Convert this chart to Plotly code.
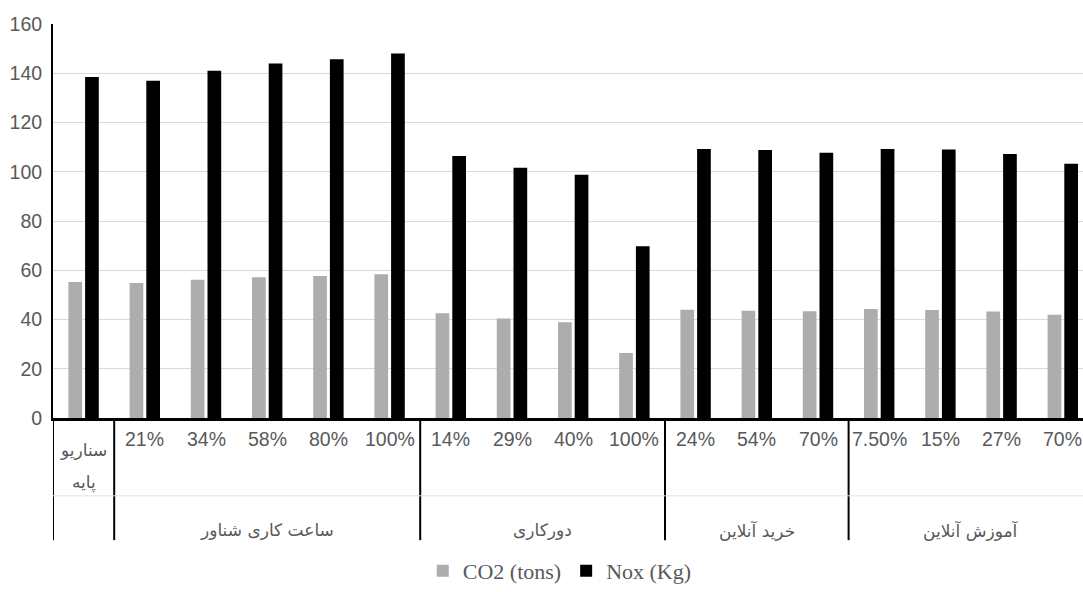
import plotly.graph_objects as go

# Scenario groups and their sub-scenario labels
group_names = ["", "ساعت کاری شناور", "دورکاری", "خرید آنلاین", "آموزش آنلاین"]
group_ticks = [
    ["سناریو\nپایه"],
    ["21%", "34%", "58%", "80%", "100%"],
    ["14%", "29%", "40%", "100%"],
    ["24%", "54%", "70%"],
    ["7.50%", "15%", "27%", "70%"],
]

# Emissions per scenario
co2_tons = [55.2, 54.8, 56.1, 57.2, 57.7, 58.4,
            42.5, 40.4, 38.9, 26.4,
            44.0, 43.6, 43.3,
            44.3, 43.9, 43.2, 41.9]
nox_kg = [138.5, 137.0, 141.0, 144.0, 145.7, 148.0,
          106.4, 101.6, 98.8, 69.7,
          109.2, 108.8, 107.7,
          109.2, 109.0, 107.2, 103.2]

y_ticks = [0, 20, 40, 60, 80, 100, 120, 140, 160]

tick_labels = [t for g in group_ticks for t in g]
xs = list(range(len(tick_labels)))

LABEL_GRAY = "#595959"
NUM_FONT = "Liberation Sans, Arial"
AR_FONT = "DejaVu Sans"
PLOT_H = 400  # plot area height in px (used to turn pixel offsets into paper units)

fig = go.Figure()
fig.add_trace(go.Bar(x=xs, y=co2_tons, name="CO2 (tons)",
                     marker=dict(color="#adadad", line=dict(width=0))))
fig.add_trace(go.Bar(x=xs, y=nox_kg, name="Nox (Kg)",
                     marker=dict(color="#000000", line=dict(width=0))))

annotations = []
shapes = []

# sub-category labels under the axis
for x, lab in zip(xs, tick_labels):
    lines = lab.split("\n")
    if len(lines) == 1:
        annotations.append(dict(x=x, xref="x", y=0, yref="paper", yshift=-21,
                                text=lab, showarrow=False, yanchor="middle",
                                font=dict(family=NUM_FONT, size=19.5, color=LABEL_GRAY)))
    else:
        for k, ln in enumerate(lines):
            annotations.append(dict(x=x, xref="x", y=0, yref="paper", yshift=-32 - 32 * k,
                                    text=ln, showarrow=False, yanchor="middle",
                                    font=dict(family=AR_FONT, size=17, color=LABEL_GRAY)))

# group labels and dividers
start = 0
bounds = [-0.5]
for name, ticks in zip(group_names, group_ticks):
    end = start + len(ticks)
    if name:
        annotations.append(dict(x=(start + end - 1) / 2, xref="x", y=0, yref="paper",
                                yshift=-112, text=name, showarrow=False, yanchor="middle",
                                font=dict(family=AR_FONT, size=17, color=LABEL_GRAY)))
    bounds.append(end - 0.5)
    start = end

for b in bounds:
    shapes.append(dict(type="line", xref="x", yref="paper", x0=b, x1=b,
                       y0=0, y1=-124 / PLOT_H, line=dict(color="black", width=2)))

# thin separator between the two label rows
shapes.append(dict(type="line", xref="paper", yref="paper", x0=0, x1=1,
                   y0=-79 / PLOT_H, y1=-79 / PLOT_H, line=dict(color="#e3e3e3", width=1)))

fig.update_layout(
    width=1083, height=592,
    margin=dict(l=53, r=0, t=24, b=168),
    paper_bgcolor="white", plot_bgcolor="white",
    barmode="group", bargap=0.454, bargroupgap=0.18,
    showlegend=True,
    legend=dict(orientation="h", x=0.492, xanchor="center", y=-156 / PLOT_H,
                yanchor="middle", font=dict(family="Liberation Serif, Times New Roman",
                                            size=22, color=LABEL_GRAY),
                itemwidth=30, bgcolor="rgba(0,0,0,0)"),
    annotations=annotations,
    shapes=shapes,
    xaxis=dict(range=[-0.5, -0.5 + 1030 / 61.2], showticklabels=False, showgrid=False,
               zeroline=False, showline=True, linecolor="black", linewidth=2.5,
               ticks="", fixedrange=True),
    yaxis=dict(range=[0, 160], tickvals=y_ticks, showgrid=True, gridcolor="#d9d9d9",
               gridwidth=1, zeroline=False, showline=True, linecolor="black",
               linewidth=2, ticks="", ticklabelstandoff=5,
               tickfont=dict(family=NUM_FONT, size=19.5, color=LABEL_GRAY)),
)

fig.write_html("out.html")
